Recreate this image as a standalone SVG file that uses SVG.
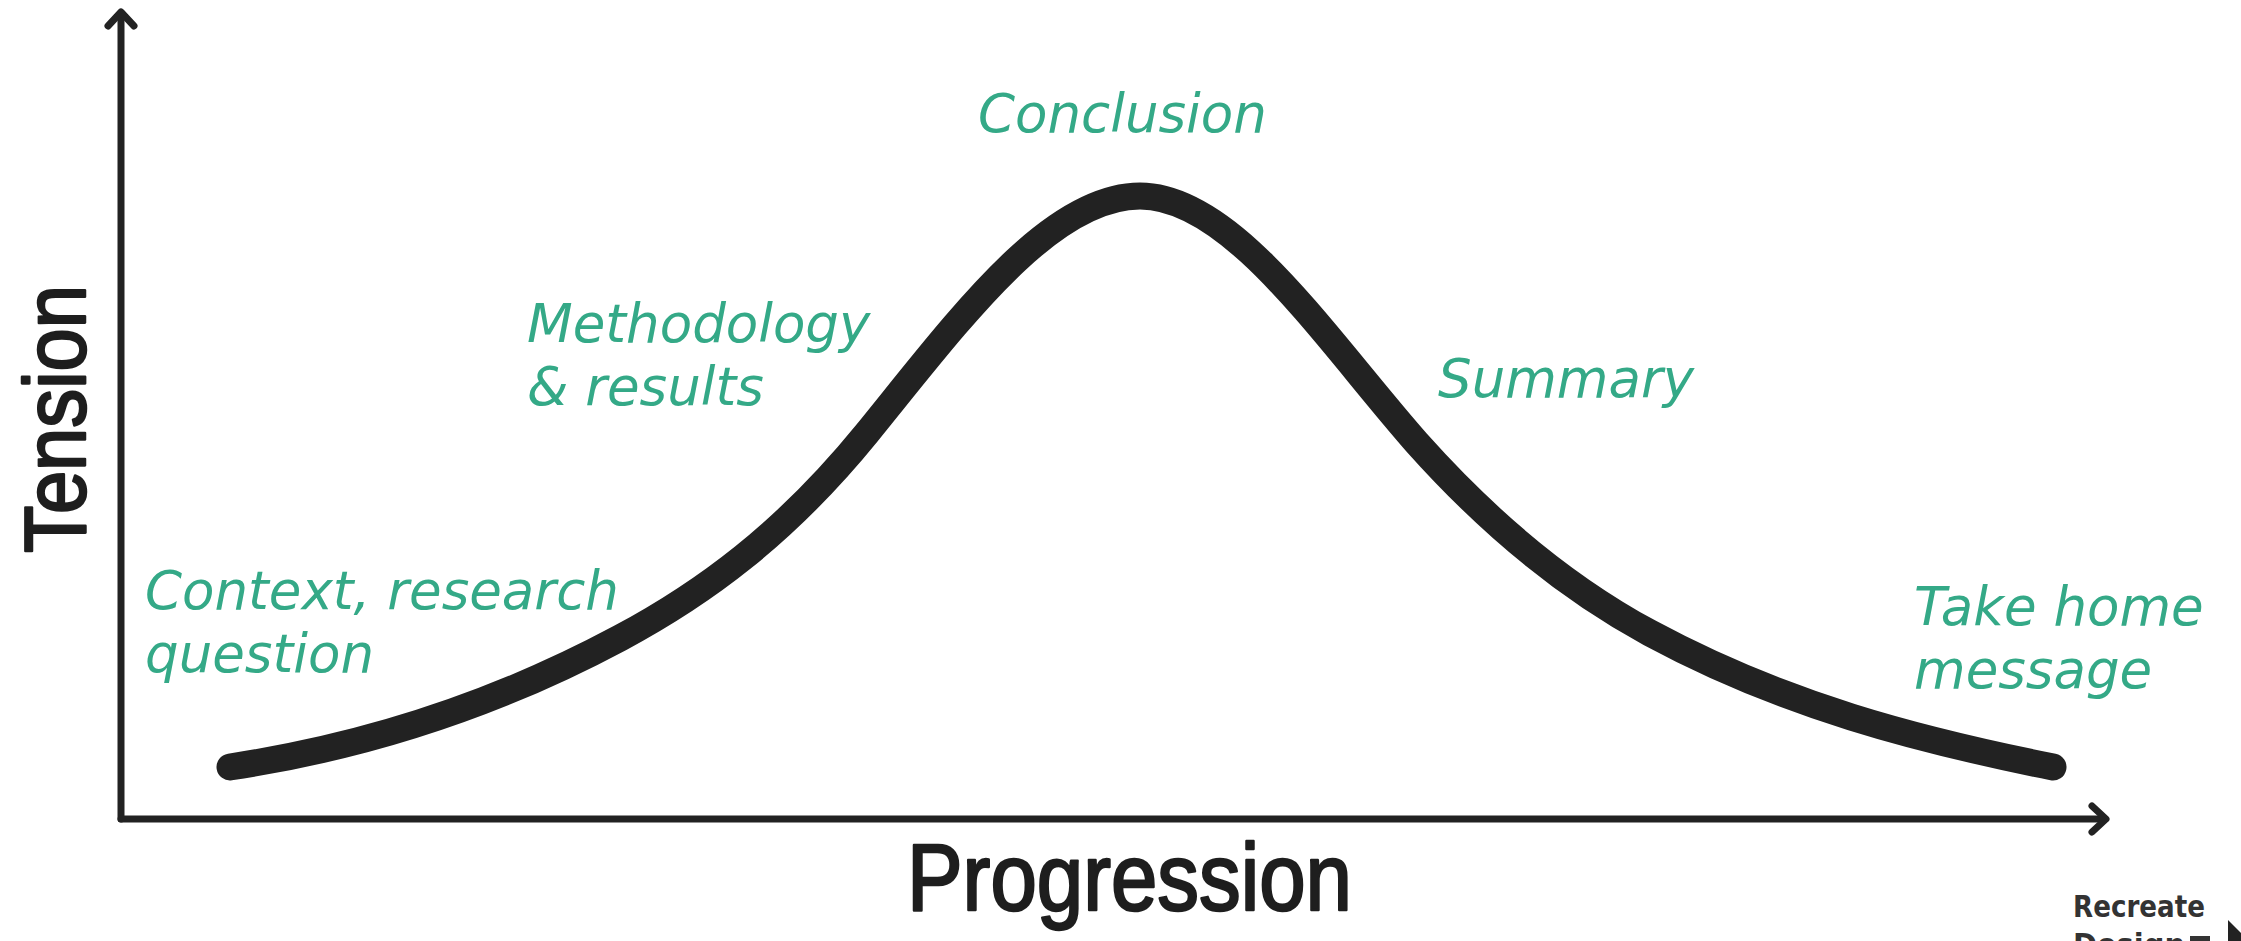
<svg xmlns="http://www.w3.org/2000/svg" width="2241" height="941" viewBox="0 0 2241 941">
  <style>
    .axis { fill: none; stroke: #222; stroke-width: 7; stroke-linecap: round; stroke-linejoin: round; }
    .curve { fill: none; stroke: #222; stroke-width: 27; stroke-linecap: round; stroke-linejoin: round; }
    .lbl { font-family: "DejaVu Sans", Verdana, sans-serif; font-style: italic; font-size: 53px; fill: #34A987; }
    .hand { font-family: "Liberation Sans", Arial, sans-serif; fill: #1e1e1e; stroke: #1e1e1e; stroke-width: 2.5; stroke-linejoin: round; }
    .mark { font-family: "DejaVu Sans", "Liberation Sans", sans-serif; font-weight: bold; font-size: 31px; fill: #333; }
  </style>
  <rect width="2241" height="941" fill="#ffffff"/>

  <g id="connectors">
    <g id="y-axis">
      <line class="axis" x1="121" y1="14" x2="121" y2="819"/>
      <polyline class="axis" points="108,26 121,12 134,26"/>
    </g>
    <g id="x-axis">
      <line class="axis" x1="121" y1="819" x2="2104" y2="819"/>
      <polyline class="axis" points="2092,806 2106,819 2092,832"/>
    </g>
  </g>

  <g id="tension-curve">
    <path class="curve" d="M230,767 C360,747.5 490,707.6 620,638 C702.3,594 784.7,534.3 867,433 C958,321 1049,196 1140,196 C1232.3,196 1324.7,338 1417,443 C1494.7,530 1572.3,591 1650,633 C1784.3,705.5 1918.7,740.1 2053,767"/>
  </g>

  <g id="axis-labels">
    <text id="label-tension" class="hand" font-size="88" textLength="268" lengthAdjust="spacingAndGlyphs" transform="translate(85,553) rotate(-90)" x="0" y="0">Tension</text>
    <text id="label-progression" class="hand" font-size="95" textLength="445" lengthAdjust="spacingAndGlyphs" x="907" y="910">Progression</text>
  </g>

  <g id="node-context">
    <text class="lbl" x="145" y="609">Context, research</text>
    <text class="lbl" x="145" y="672">question</text>
  </g>
  <g id="node-methodology">
    <text class="lbl" x="527" y="342">Methodology</text>
    <text class="lbl" x="527" y="405">&amp; results</text>
  </g>
  <g id="node-conclusion">
    <text class="lbl" x="978" y="132">Conclusion</text>
  </g>
  <g id="node-summary">
    <text class="lbl" x="1438" y="397">Summary</text>
  </g>
  <g id="node-takehome">
    <text class="lbl" x="1914" y="625">Take home</text>
    <text class="lbl" x="1914" y="688">message</text>
  </g>

  <g id="watermark">
    <text class="mark" x="2073" y="917" textLength="132" lengthAdjust="spacingAndGlyphs">Recreate</text>
    <text class="mark" x="2073" y="955" textLength="112" lengthAdjust="spacingAndGlyphs">Design</text>
    <rect x="2190" y="936" width="20" height="6" fill="#333"/>
    <polygon points="2228,920 2262,954 2228,988" fill="#222"/>
  </g>
</svg>
